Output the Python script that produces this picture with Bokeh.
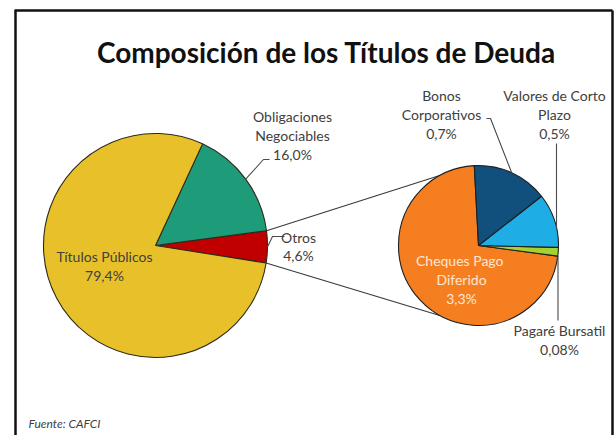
import numpy as np
from bokeh.plotting import figure
from bokeh.models import Range1d, ColumnDataSource
from bokeh.embed import file_html
from bokeh.resources import INLINE
from bokeh.core.properties import value

# ---------------- data ----------------
title_text = "Composición de los Títulos de Deuda"
source_text = "Fuente: CAFCI"

main_categories = ["Otros", "Obligaciones Negociables", "Títulos Públicos"]
main_values = [4.6, 16.0, 79.4]

sub_categories = ["Cheques Pago Diferido", "Pagaré Bursatil",
                  "Valores de Corto Plazo", "Bonos Corporativos"]
sub_values = [3.3, 0.08, 0.5, 0.7]

# ---------------- styles / layout ----------------
main_colors = ["#C00000", "#1E9B78", "#E8C12A"]
sub_colors = ["#F57F20", "#A6D133", "#1FADE6", "#114F7C"]

FONT = "Lato"
LABEL_COLOR = "#404040"
W, H = 616, 435
PAGE_H = 435


def Y(y):  # screen y (page px) -> data y
    return PAGE_H - y


MAIN_C = (155, 245)
MAIN_R = 112
MAIN_START = -9.0          # deg, where the first slice (Otros) starts
SUB_C = (478, 245)
SUB_R = 80
SUB_END = 93.0             # deg, where the last slice (Bonos) ends
CONNECT_ANGLE = 119.0      # deg on the second pie where connectors arrive

wraps = {
    "Obligaciones Negociables": ["Obligaciones", "Negociables"],
    "Bonos Corporativos": ["Bonos", "Corporativos"],
    "Valores de Corto Plazo": ["Valores de Corto", "Plazo"],
    "Cheques Pago Diferido": ["Cheques  Pago", "Diferido"],
}
# label centre x, first line y, line step, colour
label_pos = {
    "Títulos Públicos": (104, 256, 19, LABEL_COLOR),
    "Obligaciones Negociables": (292, 116, 19, LABEL_COLOR),
    "Otros": (298, 237, 18, LABEL_COLOR),
    "Bonos Corporativos": (441, 95, 19, LABEL_COLOR),
    "Valores de Corto Plazo": (554, 95, 19, LABEL_COLOR),
    "Pagaré Bursatil": (559, 330, 19, LABEL_COLOR),
    "Cheques Pago Diferido": (461, 260, 19, "#FDE6D4"),
}
# leader knee points (screen px) after the slice-edge start point
leaders = {
    "Obligaciones Negociables": [(263, 159), (269, 159)],
    "Otros": [(272, 236), (284, 236)],
    "Bonos Corporativos": [(490, 118), (486, 118)],
    "Valores de Corto Plazo": [(556, 143)],
    "Pagaré Bursatil": [(557.5, 320)],
}


def pct(v):
    s = f"{v:.2f}" if v < 0.1 else f"{v:.1f}"
    return s.replace(".", ",") + "%"


# ---------------- wedge geometry ----------------
mv = np.array(main_values, dtype=float)
m_span = mv / mv.sum() * 360.0
m_start = MAIN_START + np.concatenate([[0], np.cumsum(m_span)[:-1]])
m_end = m_start + m_span

sv = np.array(sub_values, dtype=float)
s_span = sv / sv.sum() * 360.0
s_start = SUB_END - 360.0 + np.concatenate([[0], np.cumsum(s_span)[:-1]])
s_end = s_start + s_span

p = figure(width=W, height=H, x_range=Range1d(0, W),
           y_range=Range1d(PAGE_H - H, PAGE_H),
           output_backend="svg", toolbar_location=None,
           x_axis_location=None, y_axis_location=None,
           min_border=0, outline_line_color=None,
           background_fill_color="white", border_fill_color="white")
p.grid.visible = False

# connectors between Otros and the second pie
a_top, a_bot = np.radians(m_end[0]), np.radians(m_start[0])
ca = np.radians(CONNECT_ANGLE)
p.multi_line(
    xs=[[MAIN_C[0] + MAIN_R * np.cos(a_top), SUB_C[0] + SUB_R * np.cos(ca)],
        [MAIN_C[0] + MAIN_R * np.cos(a_bot), SUB_C[0] + SUB_R * np.cos(-ca)]],
    ys=[[Y(MAIN_C[1]) + MAIN_R * np.sin(a_top), Y(SUB_C[1]) + SUB_R * np.sin(ca)],
        [Y(MAIN_C[1]) + MAIN_R * np.sin(a_bot), Y(SUB_C[1]) + SUB_R * np.sin(-ca)]],
    line_color="#3a3a3a", line_width=1.2)

main_src = ColumnDataSource(dict(
    x=[MAIN_C[0]] * len(mv), y=[Y(MAIN_C[1])] * len(mv),
    start=np.radians(m_start), end=np.radians(m_end),
    color=main_colors, cat=main_categories))
p.wedge(x="x", y="y", radius=MAIN_R, start_angle="start", end_angle="end",
        fill_color="color", line_color="#2e2a1a", line_width=1.1, source=main_src)

sub_src = ColumnDataSource(dict(
    x=[SUB_C[0]] * len(sv), y=[Y(SUB_C[1])] * len(sv),
    start=np.radians(s_start), end=np.radians(s_end),
    color=sub_colors, cat=sub_categories))
p.wedge(x="x", y="y", radius=SUB_R, start_angle="start", end_angle="end",
        fill_color="color", line_color="#1e1e1e", line_width=1.1, source=sub_src)

# leader lines
mid = {}
for c, a0, a1 in zip(main_categories, m_start, m_end):
    a = np.radians((a0 + a1) / 2)
    mid[c] = (MAIN_C[0] + MAIN_R * np.cos(a), Y(MAIN_C[1]) + MAIN_R * np.sin(a))
for c, a0, a1 in zip(sub_categories, s_start, s_end):
    a = np.radians((a0 + a1) / 2)
    mid[c] = (SUB_C[0] + SUB_R * np.cos(a), Y(SUB_C[1]) + SUB_R * np.sin(a))
mid["Valores de Corto Plazo"] = (556, Y(SUB_C[1]) + np.sqrt(SUB_R**2 - (556 - SUB_C[0])**2))
mid["Pagaré Bursatil"] = (557.5, Y(256))

lx, ly = [], []
for c, pts in leaders.items():
    sx, sy = mid[c]
    lx.append([sx] + [q[0] for q in pts])
    ly.append([sy] + [Y(q[1]) for q in pts])
p.multi_line(xs=lx, ys=ly, line_color="#4a4a4a", line_width=1.1)

# labels
tx, ty, tt, tc = [], [], [], []
for cats, vals in ((main_categories, main_values), (sub_categories, sub_values)):
    for c, v in zip(cats, vals):
        cx, y0, step, col = label_pos[c]
        lines = wraps.get(c, [c]) + [pct(v)]
        for i, line in enumerate(lines):
            tx.append(cx)
            ty.append(Y(y0 + i * step))
            tt.append(line)
            tc.append(col)
p.text(x=tx, y=ty, text=tt, text_color=tc, text_font=value(FONT),
       text_font_size="14px", text_align="center", text_baseline="middle")

# title and source
p.text(x=[326], y=[Y(51)], text=[title_text], text_font=value(FONT),
       text_font_size="28px", text_font_style="bold", text_color="#111111",
       text_align="center", text_baseline="alphabetic")
p.text(x=[28], y=[Y(423)], text=[source_text], text_font=value(FONT),
       text_font_size="12px", text_font_style="italic", text_color="#404040",
       text_align="left", text_baseline="middle")

# frame (open at the bottom)
p.multi_line(xs=[[15, 15], [14, 612], [612, 612]],
             ys=[[Y(10), Y(440)], [Y(10), Y(10)], [Y(10), Y(440)]],
             line_color="#111111", line_width=2.5)

open("out.html", "w").write(file_html(p, INLINE))
